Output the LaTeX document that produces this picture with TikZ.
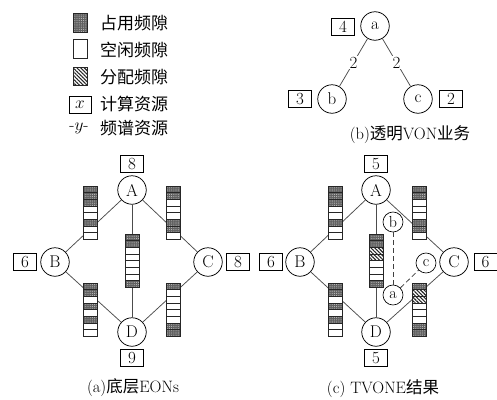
\documentclass[tikz,border=0pt]{standalone}
\usepackage{fontspec}
\newfontfamily\cjk{Noto Sans CJK SC}
\usetikzlibrary{patterns,patterns.meta,backgrounds}
\newcommand\slotsF[2]{\path[occ] (#1-7,#2) rectangle (#1+7,#2+6.67);}
\newcommand\slotsE[2]{\path[fre] (#1-7,#2) rectangle (#1+7,#2+6.67);}
\newcommand\slotsH[2]{\path[alc] (#1-7,#2) rectangle (#1+7,#2+6.67);}
\newcommand\slotbar[3]{\foreach \s [count=\i] in {#3}{\pgfmathsetmacro\yy{#2+(\i-1)*6.67}\csname slots\s\endcsname{#1}{\yy}}}
\tikzset{
  occ/.style={draw=black!85, line width=0.5pt, preaction={fill=black!62}, pattern={Dots[distance=2.2pt,radius=0.55pt]}, pattern color=black!25},
  fre/.style={draw=black!85, line width=0.5pt, fill=white},
  alc/.style={draw=black!85, line width=0.5pt, preaction={fill=white}, pattern={Lines[angle=-45,distance=2.6pt,line width=1.1pt]}, pattern color=black!85},
  pnode/.style={circle, draw, line width=0.75pt, minimum size=28.5pt, inner sep=0pt, fill=white, font=\fontsize{17}{19}\selectfont},
  vnode/.style={circle, draw, line width=0.65pt, minimum size=20pt, inner sep=0pt, fill=white, font=\fontsize{16}{18}\selectfont},
  cbox/.style={draw, line width=0.65pt, minimum width=23pt, minimum height=16.5pt, inner sep=1pt, font=\fontsize{17}{19}\selectfont},
  link/.style={draw=black!70, line width=0.75pt},
  vlink/.style={draw=black!75, line width=0.75pt, dash pattern=on 5pt off 3pt},
  lbl/.style={fill=white, inner sep=1pt, font=\fontsize{17}{19}\selectfont},
  capt/.style={font=\fontsize{16.5}{19}\selectfont},
  legtxt/.style={anchor=west, inner sep=0pt, font=\fontsize{17}{19}\cjk},
}
\begin{document}
\begin{tikzpicture}[x=1pt,y=-1pt]
\useasboundingbox (0,0) rectangle (497,399);
% ---------- legend ----------
\path[occ] (73,13) rectangle (87,32);
\path[fre] (73,39) rectangle (87,58);
\path[alc] (73,67) rectangle (87,85);
\node[cbox, minimum width=22pt] (lgx) at (80,105) {$x$};
\node[capt, font=\fontsize{17}{19}\selectfont] (lgy) at (79,128) {-$y$-};
\node[legtxt] (t1) at (100,23) {占用频隙};
\node[legtxt] (t2) at (100,50) {空闲频隙};
\node[legtxt] (t3) at (100,77) {分配频隙};
\node[legtxt] (t4) at (100,104) {计算资源};
\node[legtxt] (t5) at (100,128) {频谱资源};
% ---------- (b) VON ----------
\node[pnode] (va) at (375,26) {a};
\node[pnode] (vb) at (332,99) {b};
\node[pnode] (vc) at (418,99) {c};
\node[cbox] (ka) at (343,27) {4};
\node[cbox] (kb) at (300,99) {3};
\node[cbox] (kc) at (451,99) {2};
\draw[link] (va) -- node[lbl] {2} (vb);
\draw[link] (va) -- node[lbl] {2} (vc);
\node[capt] (capb) at (410,135) {(b){\cjk 透明}VON{\cjk 业务}};
% ---------- (a) substrate ----------
\node[pnode] (A1) at (132,190) {A};
\node[pnode] (B1) at (55,262) {B};
\node[pnode] (C1) at (208,262) {C};
\node[pnode] (D1) at (132,332) {D};
\node[cbox] (kA1) at (132,164) {8};
\node[cbox] (kB1) at (25,262) {6};
\node[cbox] (kC1) at (238,262) {8};
\node[cbox] (kD1) at (132,358) {9};
\begin{scope}[on background layer]
\draw[link] (A1) -- (B1);
\draw[link] (A1) -- (C1);
\draw[link] (A1) -- (D1);
\draw[link] (B1) -- (D1);
\draw[link] (C1) -- (D1);
\end{scope}
\slotbar{90}{186}{F,F,F,E,E,F,E,E}
\slotbar{173.5}{186}{F,F,E,E,E,F,F,E}
\slotbar{132}{234}{F,F,E,E,E,E,E,F}
\slotbar{90}{283}{F,F,E,F,E,F,E,E}
\slotbar{173.5}{283}{F,E,E,E,E,E,F,F}
\node[capt] (capa) at (133,388) {(a){\cjk 底层}EONs};
% ---------- (c) result ----------
\node[pnode] (A2) at (376,190) {A};
\node[pnode] (B2) at (300,262) {B};
\node[pnode] (C2) at (454,262) {C};
\node[pnode] (D2) at (376,332) {D};
\node[cbox] (kA2) at (376,164) {5};
\node[cbox] (kB2) at (271,262) {6};
\node[cbox] (kC2) at (485.5,262) {6};
\node[cbox] (kD2) at (376,358) {5};
\begin{scope}[on background layer]
\draw[link] (A2) -- (B2);
\draw[link] (A2) -- (C2);
\draw[link] (A2) -- (D2);
\draw[link] (B2) -- (D2);
\draw[link] (C2) -- (D2);
\end{scope}
\slotbar{335.5}{186}{F,F,F,E,E,F,E,E}
\slotbar{419.5}{186}{F,F,E,E,E,F,F,E}
\slotbar{376}{234}{F,F,H,H,E,E,E,F}
\slotbar{335.5}{283}{F,F,E,F,E,F,E,E}
\slotbar{419.5}{283}{F,H,H,E,E,E,F,F}
\node[vnode] (ub) at (393,222) {b};
\node[vnode] (uc) at (426,263) {c};
\node[vnode] (ua) at (393,295) {a};
\draw[vlink] (ub) -- (ua);
\draw[vlink] (ua) -- (uc);
\node[capt] (capc) at (383,389) {(c) TVONE{\cjk 结果}};
\end{tikzpicture}
\end{document}
